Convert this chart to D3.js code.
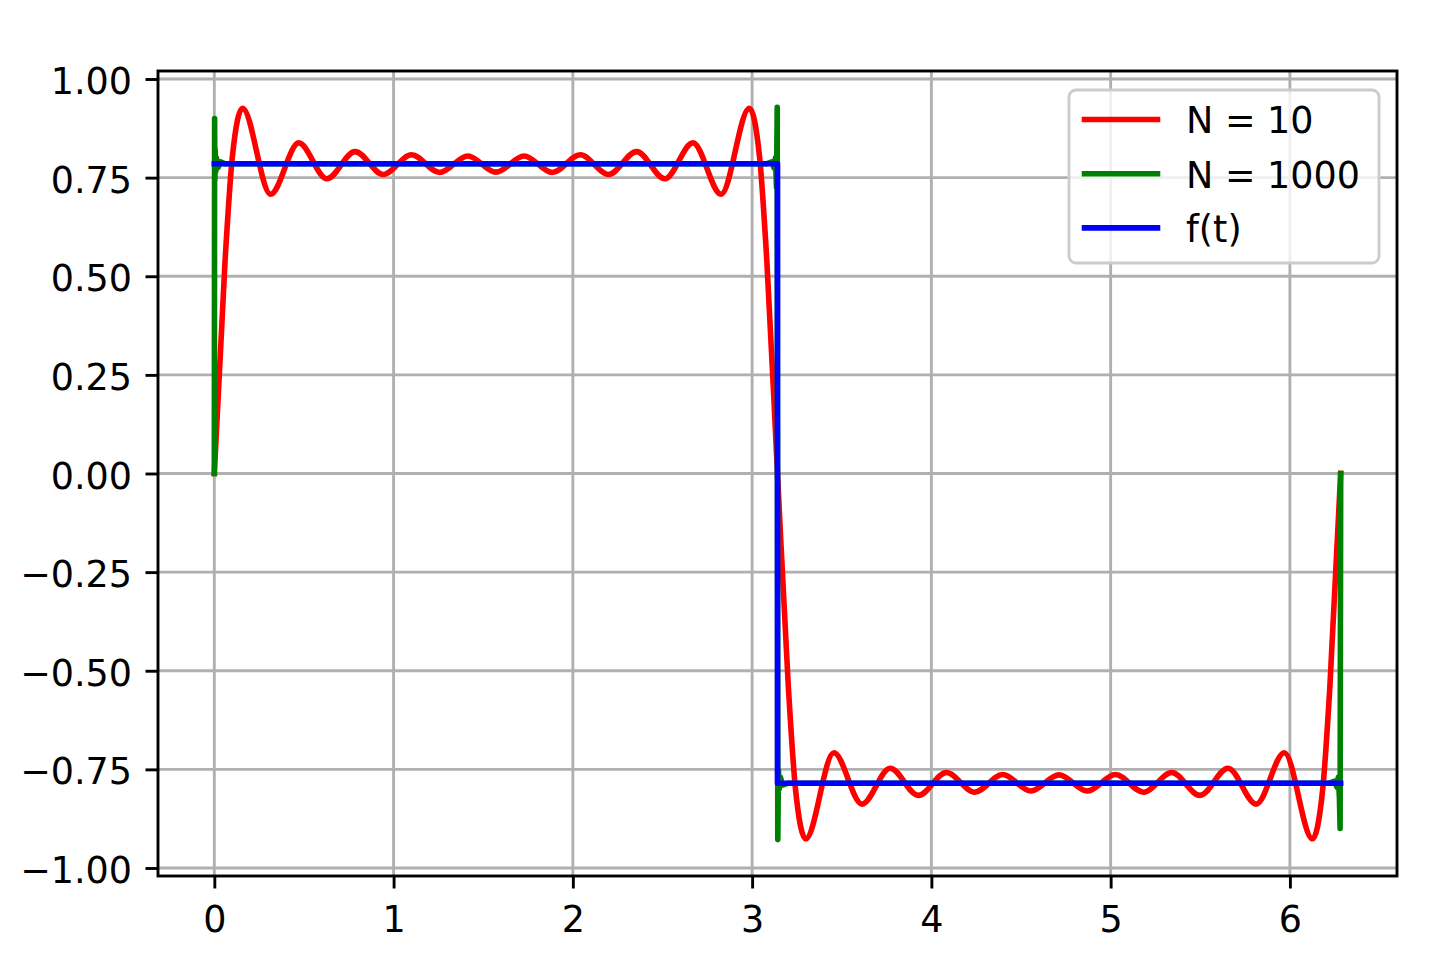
<!DOCTYPE html>
<html>
<head>
<meta charset="utf-8">
<script src="https://cdn.jsdelivr.net/npm/d3@7/dist/d3.min.js"></script>
<style>
  body { margin: 0; background: #ffffff; }
  text { font-family: "DejaVu Sans", sans-serif; }
</style>
</head>
<body>
<div class="chart"></div>
<script>
// values

// N = 10 partial sum: start, extrema, crossings
var redT = [0, 0.06, 0.10, 0.157, 0.314, 0.471, 0.628, 0.785, 0.942, 1.100, 1.257, 1.414, 1.571,
    1.728, 1.885, 2.042, 2.199, 2.356, 2.513, 2.670, 2.827, 2.985, 3.042, 3.082, 3.1416,
    3.202, 3.242, 3.299, 3.456, 3.613, 3.770, 3.927, 4.084, 4.241, 4.398, 4.555, 4.712,
    4.869, 5.027, 5.184, 5.341, 5.498, 5.655, 5.812, 5.969, 6.126, 6.183, 6.223, 6.2832];
var redY = [0, 0.54, 0.80, 0.926, 0.708, 0.838, 0.747, 0.816, 0.758, 0.808, 0.763, 0.805, 0.764,
    0.805, 0.763, 0.808, 0.758, 0.816, 0.747, 0.838, 0.708, 0.926, 0.80, 0.54, 0,
    -0.54, -0.80, -0.926, -0.708, -0.838, -0.747, -0.816, -0.758, -0.808, -0.763, -0.805, -0.764,
    -0.805, -0.763, -0.808, -0.758, -0.816, -0.747, -0.838, -0.708, -0.926, -0.80, -0.54, 0];

// N = 1000 partial sum
var greenT = [0, 0.0016, 0.003, 0.005, 0.008, 0.012, 0.02, 0.035, 0.06,
    3.08, 3.11, 3.122, 3.13, 3.136, 3.1400, 3.1432, 3.147, 3.151, 3.158, 3.17, 3.20,
    6.22, 6.25, 6.262, 6.27, 6.276, 6.2800, 6.2832];
var greenY = [0, 0.90, 0.745, 0.82, 0.765, 0.80, 0.775, 0.79, 0.785,
    0.785, 0.79, 0.775, 0.80, 0.725, 0.928, -0.928, -0.753, -0.80, -0.77, -0.79, -0.785,
    -0.785, -0.78, -0.795, -0.77, -0.82, -0.90, 0.0];

// f(t)
var fT = [0, 3.1416, 3.1416, 6.2832];
var fY = [0.785, 0.785, -0.785, -0.785];

var xTicks = [0, 1, 2, 3, 4, 5, 6];
var yTicks = [-1, -0.75, -0.5, -0.25, 0, 0.25, 0.5, 0.75, 1];

var seriesNames = ["N = 10", "N = 1000", "f(t)"];
var seriesColors = ["#ff0000", "#008000", "#0000ff"];

// svg params
var svgWidth = 1440;
var svgHeight = 974;

var margin = { top: 71, right: 43, bottom: 98, left: 158 };
var width = svgWidth - margin.left - margin.right;
var height = svgHeight - margin.top - margin.bottom;

var fontSize = 36.5;
var lineW = 5.6;

var svg = d3.select(".chart").append("svg")
    .attr("width", svgWidth)
    .attr("height", svgHeight)
    .style("display", "block");

svg.append("rect")
    .attr("width", svgWidth)
    .attr("height", svgHeight)
    .attr("fill", "#ffffff");

var chartGroup = svg.append("g")
    .attr("transform", `translate(${margin.left}, ${margin.top})`);

// scales (5% padding like matplotlib)
var xLinearScale = d3.scaleLinear()
    .domain([-0.3142, 6.5974])
    .range([0, width]);

var yLinearScale = d3.scaleLinear()
    .domain([-1.0203, 1.0203])
    .range([height, 0]);

// grid
chartGroup.append("g")
    .classed("x-grid", true)
    .selectAll("line")
    .data(xTicks)
    .enter()
    .append("line")
    .attr("x1", d => xLinearScale(d))
    .attr("x2", d => xLinearScale(d))
    .attr("y1", 0)
    .attr("y2", height)
    .attr("stroke", "#b0b0b0")
    .attr("stroke-width", 2.9);

chartGroup.append("g")
    .classed("y-grid", true)
    .selectAll("line")
    .data(yTicks)
    .enter()
    .append("line")
    .attr("x1", 0)
    .attr("x2", width)
    .attr("y1", d => yLinearScale(d))
    .attr("y2", d => yLinearScale(d))
    .attr("stroke", "#b0b0b0")
    .attr("stroke-width", 2.9);

// lines
var redLine = d3.line()
    .x((d, i) => xLinearScale(redT[i]))
    .y(d => yLinearScale(d))
    .curve(d3.curveMonotoneX);

var plainLine = d3.line()
    .x(d => xLinearScale(d[0]))
    .y(d => yLinearScale(d[1]));

var lineGroup = chartGroup.append("g").classed("lines", true);

lineGroup.append("path")
    .attr("d", redLine(redY))
    .attr("fill", "none")
    .attr("stroke", seriesColors[0])
    .attr("stroke-width", lineW)
    .attr("stroke-linecap", "square")
    .attr("stroke-linejoin", "round");

lineGroup.append("path")
    .attr("d", plainLine(greenT.map((t, i) => [t, greenY[i]])))
    .attr("fill", "none")
    .attr("stroke", seriesColors[1])
    .attr("stroke-width", lineW)
    .attr("stroke-linecap", "square")
    .attr("stroke-linejoin", "round");

lineGroup.append("path")
    .attr("d", plainLine(fT.map((t, i) => [t, fY[i]])))
    .attr("fill", "none")
    .attr("stroke", seriesColors[2])
    .attr("stroke-width", lineW)
    .attr("stroke-linecap", "square")
    .attr("stroke-linejoin", "round");

// axes
var bottomAxis = d3.axisBottom(xLinearScale)
    .tickValues(xTicks)
    .tickSize(12.5)
    .tickPadding(18)
    .tickFormat(d3.format("d"));

var leftAxis = d3.axisLeft(yLinearScale)
    .tickValues(yTicks)
    .tickSize(12.5)
    .tickPadding(13.5)
    .tickFormat(d => d3.format(".2f")(d).replace("-", "\u2212"));

var xAxis = chartGroup.append("g")
    .classed("x-axis", true)
    .attr("transform", `translate(0, ${height})`)
    .call(bottomAxis);

var yAxis = chartGroup.append("g")
    .classed("y-axis", true)
    .call(leftAxis);

[xAxis, yAxis].forEach(a => {
    a.select(".domain").remove();
    a.selectAll(".tick line").attr("stroke", "#000").attr("stroke-width", 2.9);
    a.selectAll(".tick text")
        .attr("fill", "#000")
        .style("font-size", fontSize + "px")
        .style("font-family", "'DejaVu Sans', sans-serif");
});
yAxis.selectAll(".tick text").attr("dy", "0.40em");

// frame
chartGroup.append("rect")
    .attr("width", width)
    .attr("height", height)
    .attr("fill", "none")
    .attr("stroke", "#000")
    .attr("stroke-width", 2.9);

// legend
var legend = svg.append("g")
    .classed("legend", true)
    .attr("transform", "translate(1069, 90)");

legend.append("rect")
    .attr("width", 310)
    .attr("height", 173)
    .attr("rx", 7)
    .attr("fill", "#ffffff")
    .attr("fill-opacity", 0.8)
    .attr("stroke", "#cccccc")
    .attr("stroke-width", 2.9);

var rows = legend.selectAll("g.row")
    .data(seriesNames)
    .enter()
    .append("g")
    .classed("row", true)
    .attr("transform", (d, i) => `translate(0, ${29.5 + i * 54.2})`);

rows.append("line")
    .attr("x1", 15.5)
    .attr("x2", 88.5)
    .attr("y1", 0)
    .attr("y2", 0)
    .attr("stroke", (d, i) => seriesColors[i])
    .attr("stroke-width", lineW)
    .attr("stroke-linecap", "square");

rows.append("text")
    .attr("x", 117)
    .attr("y", 13.8)
    .style("font-size", fontSize + "px")
    .attr("fill", "#000")
    .text(d => d);
</script>
</body>
</html>
